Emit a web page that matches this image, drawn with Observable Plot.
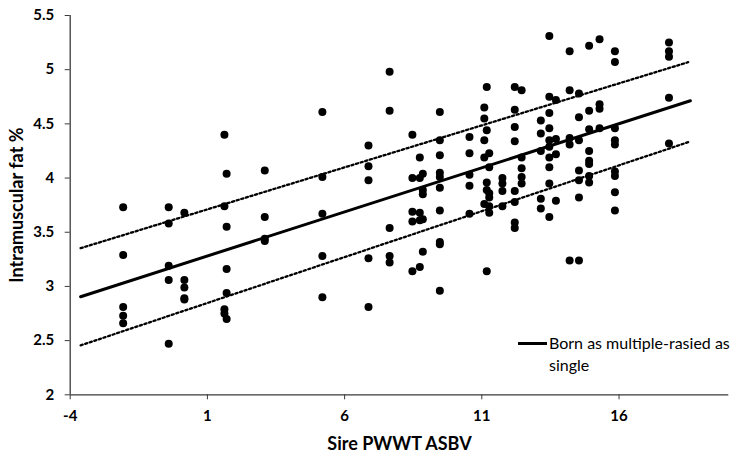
<!DOCTYPE html>
<html>
<head>
<meta charset="utf-8">
<script src="https://cdn.jsdelivr.net/npm/d3@7"></script>
<script src="https://cdn.jsdelivr.net/npm/@observablehq/plot@0.6"></script>
<style>
  body { margin: 0; background: #fff; }
  #wrap { position: relative; width: 731px; height: 457px; font-family: Lato, "Open Sans", sans-serif; }
  #legend { position: absolute; left: 518px; top: 332px; font-size: 16px; color: #000; line-height: 22px; }
  #legend .sw { position: absolute; left: 0; top: 10px; width: 29px; height: 3px; background: #000; }
  #legend .tx { position: absolute; left: 31px; top: 0; width: 200px; white-space: nowrap; }
</style>
</head>
<body>
<div id="wrap"><div id="chart"></div>
<div id="legend"><div class="sw"></div><div class="tx">Born as multiple-rasied as<br>single</div></div>
</div>
<script>
// Sire PWWT ASBV (x) and intramuscular fat % (y)
const sireASBV = [
  -2.07,-2.07,-2.07,-2.07,-2.07,
  -0.41,-0.41,-0.41,-0.41,-0.41,
  0.16,0.16,0.16,0.16,0.16,
  1.62,1.70,1.62,1.70,1.70,1.70,1.62,1.62,1.70,
  3.09,3.09,3.09,3.09,
  5.19,5.19,5.19,5.19,5.19,
  6.87,6.87,6.87,6.87,6.87,
  7.64,7.64,7.64,7.64,7.64,
  8.47,8.47,8.47,8.47,8.47,
  8.74,8.74,8.74,8.74,8.74,
  8.85,8.85,8.85,8.85,8.85,
  9.47,9.47,9.47,9.47,9.47,9.47,9.47,9.47,9.47,9.47,
  10.55,10.55,10.55,10.55,10.55,
  11.09,11.09,11.09,11.09,11.09,
  11.18,11.18,11.18,11.18,11.18,
  11.27,11.27,11.27,11.27,11.27,11.27,
  11.75,11.75,11.75,11.75,
  12.2,12.2,12.2,12.2,12.2,12.2,12.2,12.2,
  12.45,12.45,12.45,12.45,12.45,
  13.15,13.15,13.15,13.15,13.15,
  13.46,13.46,13.46,13.46,13.46,13.46,13.46,13.46,13.46,13.46,
  13.70,13.70,13.70,13.70,
  14.20,14.20,14.20,14.20,14.20,
  14.54,14.54,14.54,14.54,14.54,14.54,14.54,
  14.91,14.91,14.91,14.91,14.91,14.91,14.91,14.91,
  15.29,15.29,15.29,15.29,
  15.85,15.85,15.85,15.85,15.85,15.85,15.85,15.85,15.85,
  17.82,17.82,17.82,17.82,17.82
];
const imfPct = [
  3.73,3.29,2.81,2.73,2.66,
  3.73,3.58,3.19,3.06,2.47,
  3.68,3.06,2.99,2.89,2.88,
  4.40,4.04,3.74,3.55,3.16,2.94,2.79,2.75,2.70,
  4.07,3.64,3.44,3.42,
  4.61,4.01,3.67,3.28,2.90,
  4.30,4.11,3.98,3.26,2.81,
  4.98,4.62,3.54,3.28,3.22,
  4.40,4.00,3.69,3.60,3.14,
  4.19,4.00,3.68,3.61,3.18,
  4.04,3.89,3.85,3.62,3.32,
  4.61,4.35,4.21,4.05,4.01,3.91,3.70,3.41,3.39,2.96,
  4.38,4.23,4.03,3.93,3.67,
  4.65,4.55,4.35,4.19,3.76,
  4.84,4.44,3.96,3.89,3.14,
  4.23,4.10,3.86,3.82,3.74,3.68,
  4.00,3.95,3.88,3.74,
  4.84,4.63,4.47,4.34,3.88,3.78,3.59,3.54,
  4.81,4.19,4.09,4.01,3.95,
  4.53,4.41,4.25,3.81,3.72,
  5.31,4.75,4.60,4.46,4.35,4.29,4.19,4.10,3.95,3.64,
  4.72,4.36,4.22,3.79,
  5.17,4.81,4.37,4.31,3.24,
  4.78,4.56,4.35,4.07,3.98,3.82,3.24,
  5.22,4.62,4.45,4.25,4.16,4.13,4.02,3.96,
  5.28,4.68,4.64,4.46,
  5.17,5.07,4.46,4.35,4.31,4.06,4.02,3.87,3.70,
  5.25,5.17,5.12,4.74,4.32
];
// Trend line and its confidence band (endpoints)
const trendX = [-3.62, 18.6];
const trendY = [2.905, 4.713];
const bandX = [-3.62, 18.52];
const upperY = [3.353, 5.069];
const lowerY = [2.456, 4.331];

const xTicks = [-4, 1, 6, 11, 16];
const yTicks = [2, 2.5, 3, 3.5, 4, 4.5, 5, 5.5];
const xTitle = "Sire PWWT ASBV";
const yTitle = "Intramuscular fat %";

const points = sireASBV.map((x, i) => ({x, y: imfPct[i]}));
const trend = trendX.map((x, i) => ({x, y: trendY[i]}));
const upper = bandX.map((x, i) => ({x, y: upperY[i]}));
const lower = bandX.map((x, i) => ({x, y: lowerY[i]}));

const axisColor = "#3a3a3a";
const chart = Plot.plot({
  width: 731,
  height: 457,
  marginTop: 15,
  marginBottom: 62.7,
  marginLeft: 69.7,
  marginRight: 2.7,
  style: {fontFamily: "Lato, 'Open Sans', sans-serif", background: "#fff", color: "#000"},
  x: {domain: [-4, 20]},
  y: {domain: [2, 5.5]},
  marks: [
    Plot.axisX({ticks: xTicks, tickSize: 5, tickPadding: 11, label: null, fontSize: 15, fontWeight: "bold", stroke: axisColor, tickFormat: d => String(d)}),
    Plot.axisY({ticks: yTicks, tickSize: 5, tickPadding: 11, label: null, fontSize: 15, fontWeight: "bold", stroke: axisColor, tickFormat: d => String(d)}),
    Plot.ruleX([-4], {stroke: axisColor, strokeWidth: 1.3}),
    Plot.ruleY([2], {stroke: axisColor, strokeWidth: 1.3}),
    Plot.dot(points, {x: "x", y: "y", r: 4, fill: "#000"}),
    Plot.line(trend, {x: "x", y: "y", stroke: "#000", strokeWidth: 3}),
    Plot.line(upper, {x: "x", y: "y", stroke: "#000", strokeWidth: 2.3, strokeDasharray: "2.2,2.6"}),
    Plot.line(lower, {x: "x", y: "y", stroke: "#000", strokeWidth: 2.3, strokeDasharray: "2.2,2.6"}),
    Plot.text([xTitle], {frameAnchor: "bottom", dy: 49, textAnchor: "middle", lineAnchor: "middle", fontSize: 18, fontWeight: "bold", text: d => d}),
    Plot.text([yTitle], {frameAnchor: "left", dx: -52.7, rotate: -90, textAnchor: "middle", lineAnchor: "middle", fontSize: 18, fontWeight: "bold", text: d => d})
  ]
});
document.getElementById("chart").appendChild(chart);
</script>
</body>
</html>
